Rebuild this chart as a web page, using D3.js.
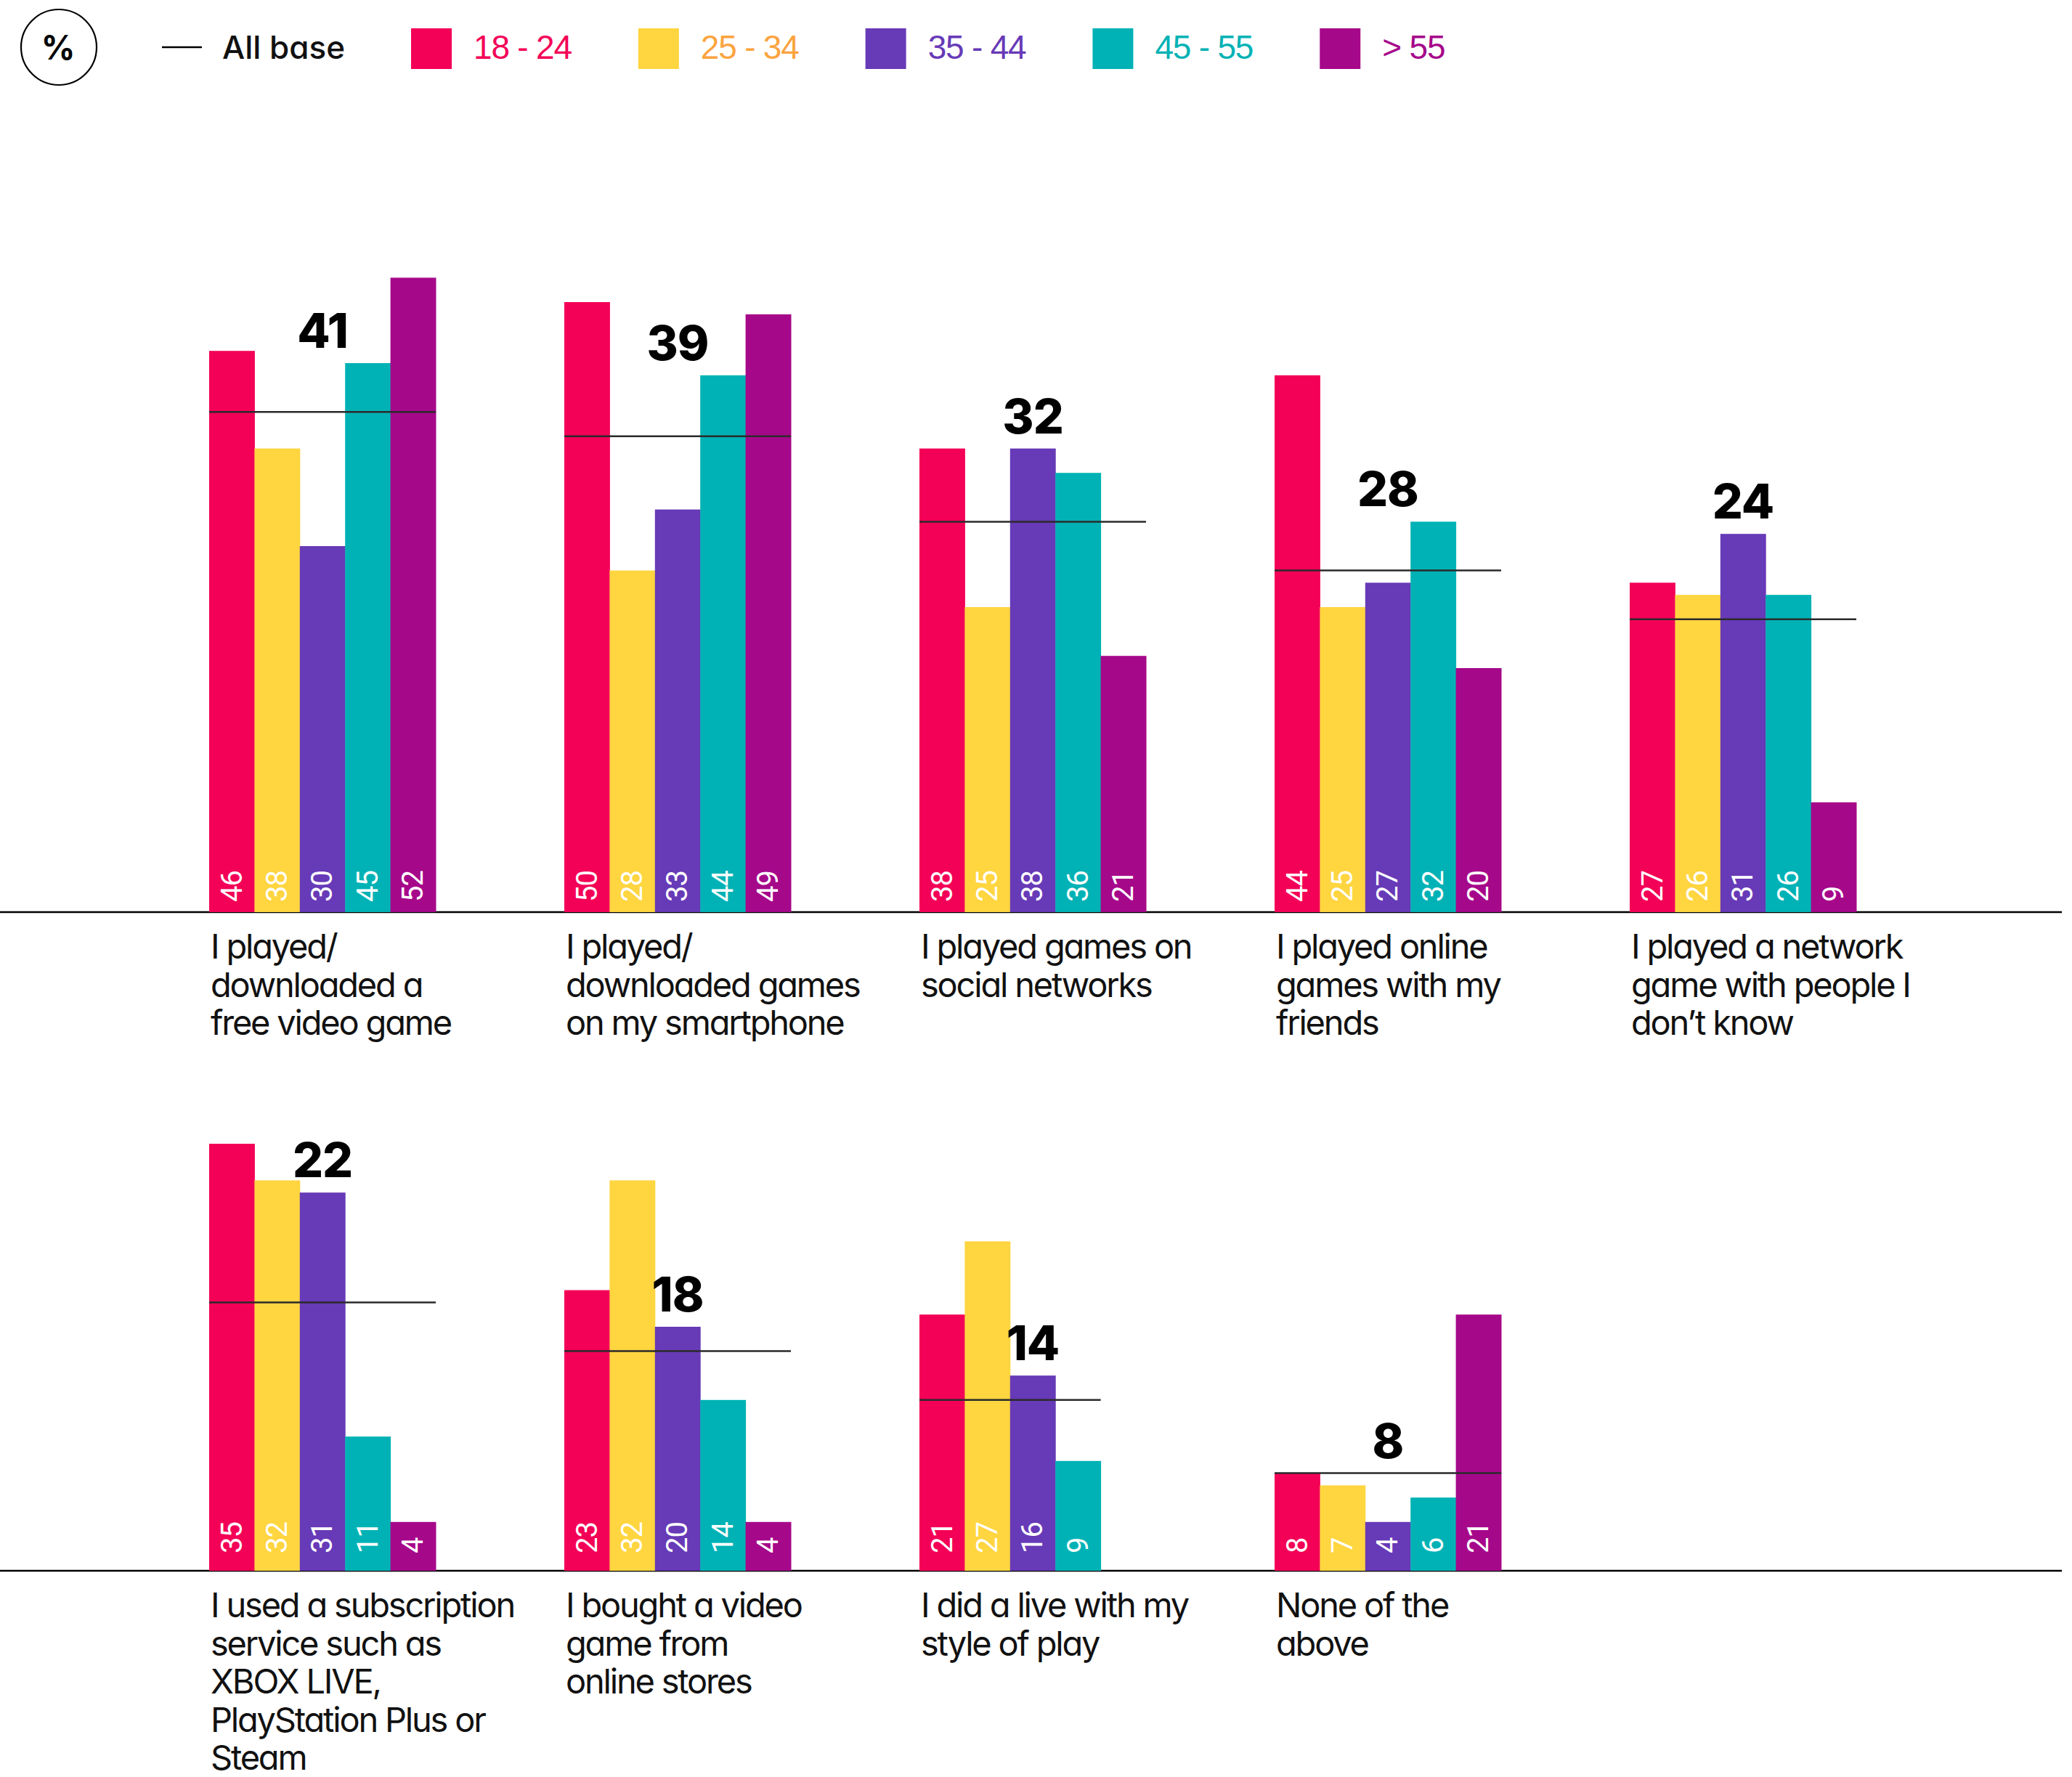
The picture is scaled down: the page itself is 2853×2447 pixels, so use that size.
<!DOCTYPE html>
<html>
<head>
<meta charset="utf-8">
<script src="https://cdn.jsdelivr.net/npm/d3@7"></script>
<style>
  html, body { margin: 0; padding: 0; background: #fff; }
  svg { display: block; }
  .cat { font-family: Inter, "Noto Sans", sans-serif; font-feature-settings: "cv11"; fill: #111; }
  .avg { font-family: Inter, "Open Sans", sans-serif; font-weight: 800; fill: #000; }
  .val { font-family: Roboto, "Liberation Sans", sans-serif; fill: #fff; }
  .leg { font-family: "Liberation Sans", Arial, sans-serif; font-weight: 500; }
</style>
</head>
<body>
<script>
// Survey: gaming activities by age group (%)
const ageGroups = ["18 - 24", "25 - 34", "35 - 44", "45 - 55", "> 55"];
const barColors = ["#F30057", "#FFD540", "#673AB7", "#00B2B5", "#A6088A"];
const legendTextColors = ["#F30057", "#FBA43F", "#673AB7", "#00B2B5", "#A6088A"];

const categoryLines = [
  ["I played/", "downloaded a", "free video game"],
  ["I played/", "downloaded games", "on my smartphone"],
  ["I played games on", "social networks"],
  ["I played online", "games with my", "friends"],
  ["I played a network", "game with people I", "don’t know"],
  ["I used a subscription", "service such as", "XBOX LIVE,", "PlayStation Plus or", "Steam"],
  ["I bought a video", "game from", "online stores"],
  ["I did a live with my", "style of play"],
  ["None of the", "above"]
];

const allBase  = [41, 39, 32, 28, 24, 22, 18, 14, 8];
const age18_24 = [46, 50, 38, 44, 27, 35, 23, 21, 8];
const age25_34 = [38, 28, 25, 25, 26, 32, 32, 27, 7];
const age35_44 = [30, 33, 38, 27, 31, 31, 20, 16, 4];
const age45_55 = [45, 44, 36, 32, 26, 11, 14, 9, 6];
const age55up  = [52, 49, 21, 20, 9, 4, 4, null, 21];

const series = [age18_24, age25_34, age35_44, age45_55, age55up];
const perRow = 5;

const W = 2853, H = 2447;
const svg = d3.select("body").append("svg").attr("width", W).attr("height", H);

// two panels, each with its own baseline
const rows = [
  { baseline: 1256, valuePad: 14 },
  { baseline: 2163, valuePad: 24 }
];
const unit = 16.8; // px per percentage point
const yScales = rows.map(r => d3.scaleLinear().domain([0, 60]).range([r.baseline, r.baseline - 60 * unit]));

const x = d3.scaleBand().domain(d3.range(perRow)).range([288, 2556]).paddingInner(177 / 489).paddingOuter(0);
const xi = d3.scaleBand().domain(d3.range(ageGroups.length)).range([0, x.bandwidth()]).padding(0);

// baselines (axes)
rows.forEach(r => {
  svg.append("line")
    .attr("x1", 0).attr("x2", 2839)
    .attr("y1", r.baseline).attr("y2", r.baseline)
    .attr("stroke", "#000").attr("stroke-width", 2.5);
});

categoryLines.forEach((lines, i) => {
  const row = Math.floor(i / perRow);
  const col = i % perRow;
  const y = yScales[row];
  const left = x(col);
  const g = svg.append("g");

  const vals = series.map((s, k) => ({ k, v: s[i] })).filter(d => d.v != null);

  g.selectAll("rect").data(vals).enter().append("rect")
    .attr("x", d => left + xi(d.k))
    .attr("width", xi.bandwidth() + 0.5)
    .attr("y", d => y(d.v))
    .attr("height", d => y(0) - y(d.v))
    .attr("fill", d => barColors[d.k]);

  g.selectAll("text.val").data(vals).enter().append("text")
    .attr("class", "val")
    .attr("transform", d => `translate(${left + xi(d.k) + xi.bandwidth() / 2 - 1},${rows[row].baseline - rows[row].valuePad}) rotate(-90)`)
    .attr("dy", "0.36em")
    .attr("font-size", 40)
    .attr("letter-spacing", -1)
    .text(d => d.v);

  // all-base reference line across the group's bars
  const lastK = d3.max(vals, d => d.k);
  g.append("line")
    .attr("x1", left).attr("x2", left + xi(lastK) + xi.bandwidth())
    .attr("y1", y(allBase[i])).attr("y2", y(allBase[i]))
    .attr("stroke", "#2a2a2a").attr("stroke-width", 2.5);

  // all-base value above the middle bars
  const top = d3.max([series[2][i], series[3][i], allBase[i]].filter(v => v != null));
  g.append("text")
    .attr("class", "avg")
    .attr("x", left + x.bandwidth() / 2)
    .attr("y", y(top) - 21)
    .attr("text-anchor", "middle")
    .attr("font-size", 66)
    .attr("letter-spacing", -1)
    .text(allBase[i]);

  // category label
  const t = g.append("text").attr("class", "cat").attr("font-size", 47).attr("letter-spacing", -2.2);
  lines.forEach((ln, j) => {
    t.append("tspan").attr("x", left + 2).attr("y", rows[row].baseline + 64 + j * 52.5).text(ln);
  });
});

// legend
const leg = svg.append("g");
leg.append("circle").attr("cx", 81).attr("cy", 65).attr("r", 52)
  .attr("fill", "none").attr("stroke", "#000").attr("stroke-width", 2.2);
leg.append("text").attr("x", 80).attr("y", 82).attr("text-anchor", "middle")
  .attr("font-family", "Inter, sans-serif").attr("font-weight", 700).attr("font-size", 46).text("%");
leg.append("line").attr("x1", 223).attr("x2", 278).attr("y1", 65).attr("y2", 65)
  .attr("stroke", "#000").attr("stroke-width", 2.5);
leg.append("text").attr("class", "cat").attr("x", 306).attr("y", 81)
  .attr("font-size", 44).attr("font-weight", 500).text("All base");

let lx = 566;
ageGroups.forEach((a, k) => {
  leg.append("rect").attr("x", lx).attr("y", 39).attr("width", 56).attr("height", 56).attr("fill", barColors[k]);
  const t = leg.append("text").attr("class", "leg").attr("x", lx + 86).attr("y", 81)
    .attr("font-size", 46).attr("letter-spacing", -1.2)
    .attr("fill", legendTextColors[k]).text(a);
  lx = lx + 86 + t.node().getComputedTextLength() + 92;
});
</script>
</body>
</html>
